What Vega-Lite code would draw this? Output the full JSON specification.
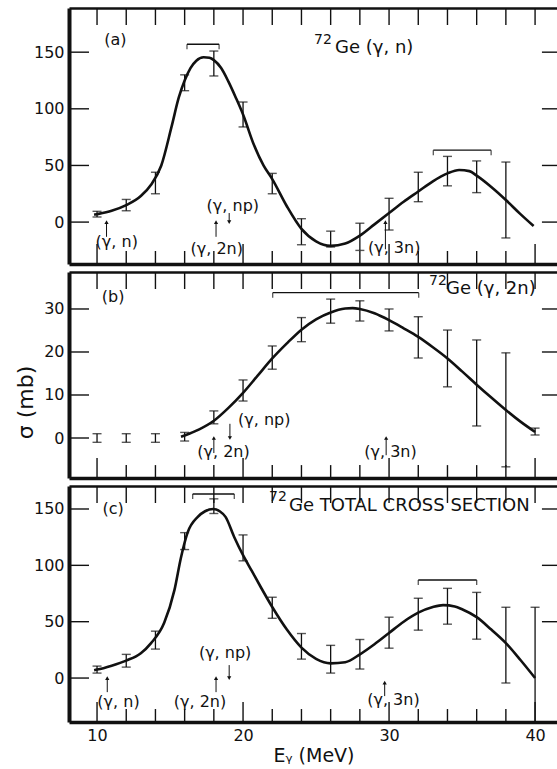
{
"$schema": "https://vega.github.io/schema/vega-lite/v6.json",
"background": "white",
"padding": {"left": 14, "top": 7, "right": 0, "bottom": 0},
"spacing": 8,
"bounds": "flush",
"config": {
  "view": {"stroke": null},
  "font": "DejaVu Sans",
  "axis": {"grid": false, "ticks": false, "labelFont": "DejaVu Sans", "titleFont": "DejaVu Sans", "labelColor": "#111", "domainColor": "#111", "titleColor": "#111", "labelFontSize": 16, "titleFontWeight": "normal"}
},
"datasets": {
  "xt": [{"E":10},{"E":12},{"E":14},{"E":16},{"E":18},{"E":20},{"E":22},{"E":24},{"E":26},{"E":28},{"E":30},{"E":32},{"E":34},{"E":36},{"E":38},{"E":40}],
  "yt": [
    {"p":"a","v":0},{"p":"a","v":50},{"p":"a","v":100},{"p":"a","v":150},
    {"p":"b","v":0},{"p":"b","v":10},{"p":"b","v":20},{"p":"b","v":30},
    {"p":"c","v":0},{"p":"c","v":50},{"p":"c","v":100},{"p":"c","v":150}
  ],
  "pts": [
    {"p":"a","E":10,"s":7,"lo":4.5,"hi":9.5},
    {"p":"a","E":12,"s":15,"lo":10,"hi":20},
    {"p":"a","E":14,"s":34.5,"lo":25,"hi":44},
    {"p":"a","E":16,"s":123,"lo":116,"hi":130},
    {"p":"a","E":18,"s":140,"lo":129,"hi":151},
    {"p":"a","E":20,"s":95,"lo":84,"hi":106},
    {"p":"a","E":22,"s":34,"lo":25,"hi":43},
    {"p":"a","E":24,"s":-8.5,"lo":-20,"hi":3},
    {"p":"a","E":26,"s":-15,"lo":-22,"hi":-8},
    {"p":"a","E":28,"s":-13,"lo":-25,"hi":-1},
    {"p":"a","E":30,"s":7,"lo":-7,"hi":21},
    {"p":"a","E":32,"s":31,"lo":18,"hi":44},
    {"p":"a","E":34,"s":45,"lo":32,"hi":58},
    {"p":"a","E":36,"s":40,"lo":26,"hi":54},
    {"p":"a","E":38,"s":19.5,"lo":-14,"hi":53},
    {"p":"b","E":10,"s":0,"lo":-1,"hi":1},
    {"p":"b","E":12,"s":0,"lo":-1,"hi":1},
    {"p":"b","E":14,"s":0,"lo":-1,"hi":1},
    {"p":"b","E":16,"s":0.3,"lo":-0.7,"hi":1.3},
    {"p":"b","E":18,"s":4.8,"lo":3.3,"hi":6.3},
    {"p":"b","E":20,"s":11,"lo":8.6,"hi":13.5},
    {"p":"b","E":22,"s":18.7,"lo":16,"hi":21.4},
    {"p":"b","E":24,"s":25.2,"lo":22.4,"hi":28},
    {"p":"b","E":26,"s":29.5,"lo":26.7,"hi":32.3},
    {"p":"b","E":28,"s":29.5,"lo":27.2,"hi":31.9},
    {"p":"b","E":30,"s":27.4,"lo":24.9,"hi":30},
    {"p":"b","E":32,"s":23.4,"lo":18.6,"hi":28.2},
    {"p":"b","E":34,"s":18.5,"lo":11.9,"hi":25.1},
    {"p":"b","E":36,"s":12.8,"lo":2.8,"hi":22.8},
    {"p":"b","E":38,"s":6.5,"lo":-6.7,"hi":19.8},
    {"p":"b","E":40,"s":1.5,"lo":0.7,"hi":2.3},
    {"p":"c","E":10,"s":7.5,"lo":4.4,"hi":10.6},
    {"p":"c","E":12,"s":15.5,"lo":9.7,"hi":21},
    {"p":"c","E":14,"s":33.6,"lo":25.7,"hi":41.6},
    {"p":"c","E":16,"s":121.5,"lo":114,"hi":129},
    {"p":"c","E":18,"s":152.5,"lo":146,"hi":159},
    {"p":"c","E":20,"s":115.5,"lo":104,"hi":127},
    {"p":"c","E":22,"s":62.4,"lo":53,"hi":71.7},
    {"p":"c","E":24,"s":28,"lo":16.8,"hi":39.5},
    {"p":"c","E":26,"s":16.7,"lo":4.4,"hi":29},
    {"p":"c","E":28,"s":21,"lo":8,"hi":34.2},
    {"p":"c","E":30,"s":40,"lo":26.5,"hi":54},
    {"p":"c","E":32,"s":56.6,"lo":42.5,"hi":70.8},
    {"p":"c","E":34,"s":63.7,"lo":47.8,"hi":79.6},
    {"p":"c","E":36,"s":55,"lo":34.5,"hi":76},
    {"p":"c","E":38,"s":29,"lo":-4.4,"hi":62.8},
    {"p":"c","E":40,"s":0,"lo":-63,"hi":62.8}
  ],
  "curve": [
    {"p":"a","E":9.8,"s":6.5},{"p":"a","E":10,"s":7},{"p":"a","E":11,"s":10},{"p":"a","E":12,"s":15},{"p":"a","E":13,"s":23},{"p":"a","E":13.7,"s":33},{"p":"a","E":14.4,"s":50},{"p":"a","E":15.1,"s":84},{"p":"a","E":15.6,"s":110},{"p":"a","E":16,"s":125},{"p":"a","E":16.4,"s":136},{"p":"a","E":16.8,"s":142.5},{"p":"a","E":17.3,"s":145.5},{"p":"a","E":17.7,"s":145},{"p":"a","E":18,"s":143},{"p":"a","E":18.5,"s":136},{"p":"a","E":19,"s":124},{"p":"a","E":19.5,"s":110},{"p":"a","E":20,"s":95},{"p":"a","E":20.75,"s":68},{"p":"a","E":21.4,"s":50},{"p":"a","E":22,"s":38},{"p":"a","E":23,"s":14},{"p":"a","E":24,"s":-6},{"p":"a","E":25,"s":-17},{"p":"a","E":26,"s":-21},{"p":"a","E":27,"s":-19},{"p":"a","E":28,"s":-12},{"p":"a","E":29,"s":-2},{"p":"a","E":30,"s":8},{"p":"a","E":31,"s":18},{"p":"a","E":32,"s":27},{"p":"a","E":33,"s":36},{"p":"a","E":34,"s":43},{"p":"a","E":34.8,"s":46},{"p":"a","E":35.5,"s":45},{"p":"a","E":36,"s":41},{"p":"a","E":37,"s":31},{"p":"a","E":38,"s":19.5},{"p":"a","E":39,"s":7},{"p":"a","E":39.9,"s":-3.5},
    {"p":"b","E":15.75,"s":0.3},{"p":"b","E":16,"s":0.6},{"p":"b","E":17,"s":2},{"p":"b","E":18,"s":4},{"p":"b","E":19,"s":7},{"p":"b","E":20,"s":10.5},{"p":"b","E":21,"s":14.5},{"p":"b","E":22,"s":18.5},{"p":"b","E":23,"s":22},{"p":"b","E":24,"s":25.2},{"p":"b","E":25,"s":27.6},{"p":"b","E":26,"s":29.2},{"p":"b","E":27,"s":30.1},{"p":"b","E":27.5,"s":30.2},{"p":"b","E":28,"s":30},{"p":"b","E":29,"s":29},{"p":"b","E":30,"s":27.4},{"p":"b","E":31,"s":25.5},{"p":"b","E":32,"s":23.5},{"p":"b","E":33,"s":21.1},{"p":"b","E":34,"s":18.5},{"p":"b","E":35,"s":15.5},{"p":"b","E":36,"s":12.4},{"p":"b","E":37,"s":9.4},{"p":"b","E":38,"s":6.5},{"p":"b","E":39,"s":3.8},{"p":"b","E":40,"s":1.4},
    {"p":"c","E":9.8,"s":7},{"p":"c","E":10,"s":7.5},{"p":"c","E":11,"s":11},{"p":"c","E":12,"s":15.5},{"p":"c","E":13,"s":22},{"p":"c","E":13.7,"s":31},{"p":"c","E":14.6,"s":49},{"p":"c","E":15.3,"s":78},{"p":"c","E":15.75,"s":107},{"p":"c","E":16.2,"s":129},{"p":"c","E":16.9,"s":143},{"p":"c","E":17.4,"s":148},{"p":"c","E":17.95,"s":150},{"p":"c","E":18.4,"s":148},{"p":"c","E":18.8,"s":143},{"p":"c","E":19.4,"s":125},{"p":"c","E":20,"s":109},{"p":"c","E":20.6,"s":95},{"p":"c","E":21.2,"s":81},{"p":"c","E":22,"s":63},{"p":"c","E":23,"s":43},{"p":"c","E":24,"s":27},{"p":"c","E":25,"s":17},{"p":"c","E":26,"s":13},{"p":"c","E":27,"s":14},{"p":"c","E":28,"s":21},{"p":"c","E":29,"s":30},{"p":"c","E":30,"s":40},{"p":"c","E":31,"s":50},{"p":"c","E":32,"s":58},{"p":"c","E":33,"s":63},{"p":"c","E":33.7,"s":64.7},{"p":"c","E":34.5,"s":63.5},{"p":"c","E":35,"s":61},{"p":"c","E":36,"s":54},{"p":"c","E":37,"s":43},{"p":"c","E":38,"s":31},{"p":"c","E":39,"s":16},{"p":"c","E":40,"s":0}
  ],
  "br": [
    {"p":"a","E1":16.16,"E2":18.36,"s":157},
    {"p":"a","E1":33.03,"E2":36.99,"s":63.5},
    {"p":"b","E1":22.03,"E2":32.03,"s":33.8},
    {"p":"c","E1":16.55,"E2":19.4,"s":163.3},
    {"p":"c","E1":32.0,"E2":36.0,"s":87}
  ],
  "arr": [
    {"p":"a","E":10.65,"t":-13,"h":0,"dir":"up"},
    {"p":"a","E":18.15,"t":-13,"h":0,"dir":"up"},
    {"p":"a","E":19.05,"t":8,"h":0,"dir":"down"},
    {"p":"a","E":29.75,"t":-24,"h":0,"dir":"up"},
    {"p":"b","E":18.0,"t":-3.5,"h":0,"dir":"up"},
    {"p":"b","E":19.1,"t":3.3,"h":0,"dir":"down"},
    {"p":"b","E":29.8,"t":-4,"h":0,"dir":"up"},
    {"p":"c","E":10.7,"t":-12.5,"h":0,"dir":"up"},
    {"p":"c","E":18.15,"t":-12.5,"h":0,"dir":"up"},
    {"p":"c","E":19.05,"t":11.5,"h":0,"dir":"down"},
    {"p":"c","E":29.7,"t":-16,"h":-4,"dir":"up"}
  ],
  "notes": [
    {"p":"a","k":"c","E":11.25,"s":160.5,"t":"(a)"},
    {"p":"a","k":"c","E":11.35,"s":-17.5,"t":"(γ, n)"},
    {"p":"a","k":"c","E":18.2,"s":-24,"t":"(γ, 2n)"},
    {"p":"a","k":"c","E":19.3,"s":14,"t":"(γ, np)"},
    {"p":"a","k":"c","E":30.35,"s":-23,"t":"(γ, 3n)"},
    {"p":"a","k":"sup","E":24.86,"s":160.6,"t":"72"},
    {"p":"a","k":"head","E":26.3,"s":154,"t":"Ge (γ, n)"},
    {"p":"b","k":"c","E":11.1,"s":32.8,"t":"(b)"},
    {"p":"b","k":"c","E":18.66,"s":-3.3,"t":"(γ, 2n)"},
    {"p":"b","k":"c","E":21.45,"s":4.2,"t":"(γ, np)"},
    {"p":"b","k":"c","E":30.1,"s":-3.3,"t":"(γ, 3n)"},
    {"p":"b","k":"sup","E":32.74,"s":36.5,"t":"72"},
    {"p":"b","k":"head","E":33.9,"s":34.65,"t":"Ge (γ, 2n)"},
    {"p":"c","k":"c","E":11.1,"s":150,"t":"(c)"},
    {"p":"c","k":"c","E":11.47,"s":-21,"t":"(γ, n)"},
    {"p":"c","k":"c","E":17.05,"s":-21,"t":"(γ, 2n)"},
    {"p":"c","k":"c","E":18.77,"s":22.5,"t":"(γ, np)"},
    {"p":"c","k":"c","E":30.3,"s":-19.5,"t":"(γ, 3n)"},
    {"p":"c","k":"sup","E":21.78,"s":160.7,"t":"72"},
    {"p":"c","k":"head","E":23.15,"s":153,"t":"Ge TOTAL CROSS SECTION"}
  ]
},
"vconcat": [
  {
    "width": 489, "height": 256,
    "resolve": {"axis": {"x": "independent", "y": "independent"}},
    "layer": [
      {"mark": {"type": "rule", "color": "#444", "strokeWidth": 1}, "encoding": {"y": {"datum": 0, "type": "quantitative", "axis": null, "scale": {"domain": [-37, 189], "nice": false, "zero": false}}}},
      {"data": {"name": "pts"}, "transform": [{"filter": "datum.p === 'a'"}], "mark": {"type": "rule", "color": "#111", "strokeWidth": 1.3, "clip": true},
       "encoding": {
         "x": {"field": "E", "type": "quantitative", "scale": {"domain": [8.08, 41.57], "nice": false, "zero": false}, "axis": {"orient": "bottom", "labels": false, "domainWidth": 3.5, "title": null}},
         "y": {"field": "lo", "type": "quantitative", "scale": {"domain": [-37, 189], "nice": false, "zero": false}, "axis": {"orient": "left", "values": [0, 50, 100, 150], "labelPadding": 5, "domainWidth": 4, "title": null}},
         "y2": {"field": "hi"}}},
      {"data": {"name": "pts"}, "transform": [{"filter": "datum.p === 'a'"}], "mark": {"type": "tick", "orient": "horizontal", "size": 9, "thickness": 1.4, "color": "#111", "clip": true},
       "encoding": {"x": {"field": "E", "type": "quantitative", "axis": {"orient": "top", "labels": false, "domainWidth": 2.5, "title": null}}, "y": {"field": "lo", "type": "quantitative", "axis": null}}},
      {"data": {"name": "pts"}, "transform": [{"filter": "datum.p === 'a'"}], "mark": {"type": "tick", "orient": "horizontal", "size": 9, "thickness": 1.4, "color": "#111", "clip": true},
       "encoding": {"x": {"field": "E", "type": "quantitative", "axis": null}, "y": {"field": "hi", "type": "quantitative", "axis": null}}},
      {"data": {"name": "xt"}, "transform": [{"filter": "datum.E % 10 === 0"}], "mark": {"type": "rule", "strokeWidth": 1.4, "color": "#111"},
       "encoding": {"x": {"field": "E", "type": "quantitative", "axis": null}, "y": {"datum": -37, "type": "quantitative", "axis": null}, "y2": {"datum": -19.3}}},
      {"data": {"name": "xt"}, "transform": [{"filter": "datum.E % 10 !== 0"}], "mark": {"type": "rule", "strokeWidth": 1.4, "color": "#111"},
       "encoding": {"x": {"field": "E", "type": "quantitative", "axis": null}, "y": {"datum": -37, "type": "quantitative", "axis": null}, "y2": {"datum": -25.5}}},
      {"data": {"name": "xt"}, "mark": {"type": "rule", "strokeWidth": 1.4, "color": "#111"},
       "encoding": {"x": {"field": "E", "type": "quantitative", "axis": null}, "y": {"datum": 189, "type": "quantitative", "axis": null}, "y2": {"datum": 174}}},
      {"data": {"name": "yt"}, "transform": [{"filter": "datum.p === 'a'"}], "mark": {"type": "rule", "strokeWidth": 1.4, "color": "#111"},
       "encoding": {"y": {"field": "v", "type": "quantitative", "axis": null}, "x": {"datum": 8.08, "type": "quantitative", "axis": null}, "x2": {"datum": 9.45}}},
      {"data": {"name": "yt"}, "transform": [{"filter": "datum.p === 'a'"}], "mark": {"type": "rule", "strokeWidth": 1.4, "color": "#111"},
       "encoding": {"y": {"field": "v", "type": "quantitative", "axis": null}, "x": {"datum": 40.47, "type": "quantitative", "axis": null}, "x2": {"datum": 41.57}}},
      {"data": {"name": "curve"}, "transform": [{"filter": "datum.p === 'a'"}], "mark": {"type": "line", "interpolate": "monotone", "color": "#111", "strokeWidth": 2.6, "clip": true},
       "encoding": {"x": {"field": "E", "type": "quantitative", "axis": null}, "y": {"field": "s", "type": "quantitative", "axis": null}}},
      {"data": {"name": "br"}, "transform": [{"filter": "datum.p === 'a'"}], "mark": {"type": "rule", "color": "#111", "strokeWidth": 1.3},
       "encoding": {"x": {"field": "E1", "type": "quantitative", "axis": null}, "x2": {"field": "E2"}, "y": {"field": "s", "type": "quantitative", "axis": null}}},
      {"data": {"name": "br"}, "transform": [{"filter": "datum.p === 'a'"}], "mark": {"type": "tick", "orient": "vertical", "size": 5, "thickness": 1.3, "color": "#111", "yOffset": 2.5},
       "encoding": {"x": {"field": "E1", "type": "quantitative", "axis": null}, "y": {"field": "s", "type": "quantitative", "axis": null}}},
      {"data": {"name": "br"}, "transform": [{"filter": "datum.p === 'a'"}], "mark": {"type": "tick", "orient": "vertical", "size": 5, "thickness": 1.3, "color": "#111", "yOffset": 2.5},
       "encoding": {"x": {"field": "E2", "type": "quantitative", "axis": null}, "y": {"field": "s", "type": "quantitative", "axis": null}}},
      {"data": {"name": "arr"}, "transform": [{"filter": "datum.p === 'a'"}], "mark": {"type": "rule", "color": "#111", "strokeWidth": 1},
       "encoding": {"x": {"field": "E", "type": "quantitative", "axis": null}, "y": {"field": "t", "type": "quantitative", "axis": null}, "y2": {"field": "h"}}},
      {"data": {"name": "arr"}, "transform": [{"filter": "datum.p === 'a'"}], "mark": {"type": "point", "filled": true, "size": 18, "color": "#111", "opacity": 1},
       "encoding": {"x": {"field": "E", "type": "quantitative", "axis": null}, "y": {"field": "h", "type": "quantitative", "axis": null}, "shape": {"field": "dir", "type": "nominal", "scale": {"domain": ["up", "down"], "range": ["triangle-up", "triangle-down"]}, "legend": null}}},
      {"data": {"name": "notes"}, "transform": [{"filter": "datum.p === 'a' && datum.k === 'c'"}], "mark": {"type": "text", "fontSize": 16, "align": "center", "baseline": "middle", "color": "#111", "font": "DejaVu Sans"},
       "encoding": {"x": {"field": "E", "type": "quantitative", "axis": null}, "y": {"field": "s", "type": "quantitative", "axis": null}, "text": {"field": "t"}}},
      {"data": {"name": "notes"}, "transform": [{"filter": "datum.p === 'a' && datum.k === 'sup'"}], "mark": {"type": "text", "fontSize": 14, "align": "left", "baseline": "middle", "color": "#111", "font": "DejaVu Sans"},
       "encoding": {"x": {"field": "E", "type": "quantitative", "axis": null}, "y": {"field": "s", "type": "quantitative", "axis": null}, "text": {"field": "t"}}},
      {"data": {"name": "notes"}, "transform": [{"filter": "datum.p === 'a' && datum.k === 'head'"}], "mark": {"type": "text", "fontSize": 18, "align": "left", "baseline": "middle", "color": "#111", "font": "DejaVu Sans"},
       "encoding": {"x": {"field": "E", "type": "quantitative", "axis": null}, "y": {"field": "s", "type": "quantitative", "axis": null}, "text": {"field": "t"}}}
    ]
  },
  {
    "width": 489, "height": 206,
    "resolve": {"axis": {"x": "independent", "y": "independent"}},
    "layer": [
      {"mark": {"type": "rule", "color": "#444", "strokeWidth": 1}, "encoding": {"y": {"datum": 0, "type": "quantitative", "axis": null, "scale": {"domain": [-9.3, 38.6], "nice": false, "zero": false}}}},
      {"data": {"name": "pts"}, "transform": [{"filter": "datum.p === 'b'"}], "mark": {"type": "rule", "color": "#111", "strokeWidth": 1.3, "clip": true},
       "encoding": {
         "x": {"field": "E", "type": "quantitative", "scale": {"domain": [8.08, 41.57], "nice": false, "zero": false}, "axis": {"orient": "bottom", "labels": false, "domainWidth": 3.5, "title": null}},
         "y": {"field": "lo", "type": "quantitative", "scale": {"domain": [-9.3, 38.6], "nice": false, "zero": false}, "axis": {"orient": "left", "values": [0, 10, 20, 30], "labelPadding": 5, "domainWidth": 4, "title": "σ (mb)", "titleFontSize": 22, "titleX": -44, "titleY": 130, "titleAngle": -90, "titleAlign": "center", "titleBaseline": "middle"}},
         "y2": {"field": "hi"}}},
      {"data": {"name": "pts"}, "transform": [{"filter": "datum.p === 'b'"}], "mark": {"type": "tick", "orient": "horizontal", "size": 9, "thickness": 1.4, "color": "#111", "clip": true},
       "encoding": {"x": {"field": "E", "type": "quantitative", "axis": {"orient": "top", "labels": false, "domainWidth": 2.5, "title": null}}, "y": {"field": "lo", "type": "quantitative", "axis": null}}},
      {"data": {"name": "pts"}, "transform": [{"filter": "datum.p === 'b'"}], "mark": {"type": "tick", "orient": "horizontal", "size": 9, "thickness": 1.4, "color": "#111", "clip": true},
       "encoding": {"x": {"field": "E", "type": "quantitative", "axis": null}, "y": {"field": "hi", "type": "quantitative", "axis": null}}},
      {"data": {"name": "xt"}, "transform": [{"filter": "datum.E % 10 === 0"}], "mark": {"type": "rule", "strokeWidth": 1.4, "color": "#111"},
       "encoding": {"x": {"field": "E", "type": "quantitative", "axis": null}, "y": {"datum": -9.3, "type": "quantitative", "axis": null}, "y2": {"datum": -4.65}}},
      {"data": {"name": "xt"}, "transform": [{"filter": "datum.E % 10 !== 0"}], "mark": {"type": "rule", "strokeWidth": 1.4, "color": "#111"},
       "encoding": {"x": {"field": "E", "type": "quantitative", "axis": null}, "y": {"datum": -9.3, "type": "quantitative", "axis": null}, "y2": {"datum": -6.3}}},
      {"data": {"name": "xt"}, "mark": {"type": "rule", "strokeWidth": 1.4, "color": "#111"},
       "encoding": {"x": {"field": "E", "type": "quantitative", "axis": null}, "y": {"datum": 38.6, "type": "quantitative", "axis": null}, "y2": {"datum": 34.65}}},
      {"data": {"name": "yt"}, "transform": [{"filter": "datum.p === 'b'"}], "mark": {"type": "rule", "strokeWidth": 1.4, "color": "#111"},
       "encoding": {"y": {"field": "v", "type": "quantitative", "axis": null}, "x": {"datum": 8.08, "type": "quantitative", "axis": null}, "x2": {"datum": 9.45}}},
      {"data": {"name": "yt"}, "transform": [{"filter": "datum.p === 'b' && datum.v > 0"}], "mark": {"type": "rule", "strokeWidth": 1.4, "color": "#111"},
       "encoding": {"y": {"field": "v", "type": "quantitative", "axis": null}, "x": {"datum": 40.47, "type": "quantitative", "axis": null}, "x2": {"datum": 41.57}}},
      {"data": {"name": "curve"}, "transform": [{"filter": "datum.p === 'b'"}], "mark": {"type": "line", "interpolate": "monotone", "color": "#111", "strokeWidth": 2.6, "clip": true},
       "encoding": {"x": {"field": "E", "type": "quantitative", "axis": null}, "y": {"field": "s", "type": "quantitative", "axis": null}}},
      {"data": {"name": "br"}, "transform": [{"filter": "datum.p === 'b'"}], "mark": {"type": "rule", "color": "#111", "strokeWidth": 1.3},
       "encoding": {"x": {"field": "E1", "type": "quantitative", "axis": null}, "x2": {"field": "E2"}, "y": {"field": "s", "type": "quantitative", "axis": null}}},
      {"data": {"name": "br"}, "transform": [{"filter": "datum.p === 'b'"}], "mark": {"type": "tick", "orient": "vertical", "size": 5, "thickness": 1.3, "color": "#111", "yOffset": 2.5},
       "encoding": {"x": {"field": "E1", "type": "quantitative", "axis": null}, "y": {"field": "s", "type": "quantitative", "axis": null}}},
      {"data": {"name": "br"}, "transform": [{"filter": "datum.p === 'b'"}], "mark": {"type": "tick", "orient": "vertical", "size": 5, "thickness": 1.3, "color": "#111", "yOffset": 2.5},
       "encoding": {"x": {"field": "E2", "type": "quantitative", "axis": null}, "y": {"field": "s", "type": "quantitative", "axis": null}}},
      {"data": {"name": "arr"}, "transform": [{"filter": "datum.p === 'b'"}], "mark": {"type": "rule", "color": "#111", "strokeWidth": 1},
       "encoding": {"x": {"field": "E", "type": "quantitative", "axis": null}, "y": {"field": "t", "type": "quantitative", "axis": null}, "y2": {"field": "h"}}},
      {"data": {"name": "arr"}, "transform": [{"filter": "datum.p === 'b'"}], "mark": {"type": "point", "filled": true, "size": 18, "color": "#111", "opacity": 1},
       "encoding": {"x": {"field": "E", "type": "quantitative", "axis": null}, "y": {"field": "h", "type": "quantitative", "axis": null}, "shape": {"field": "dir", "type": "nominal", "scale": {"domain": ["up", "down"], "range": ["triangle-up", "triangle-down"]}, "legend": null}}},
      {"data": {"name": "notes"}, "transform": [{"filter": "datum.p === 'b' && datum.k === 'c'"}], "mark": {"type": "text", "fontSize": 16, "align": "center", "baseline": "middle", "color": "#111", "font": "DejaVu Sans"},
       "encoding": {"x": {"field": "E", "type": "quantitative", "axis": null}, "y": {"field": "s", "type": "quantitative", "axis": null}, "text": {"field": "t"}}},
      {"data": {"name": "notes"}, "transform": [{"filter": "datum.p === 'b' && datum.k === 'sup'"}], "mark": {"type": "text", "fontSize": 14, "align": "left", "baseline": "middle", "color": "#111", "font": "DejaVu Sans"},
       "encoding": {"x": {"field": "E", "type": "quantitative", "axis": null}, "y": {"field": "s", "type": "quantitative", "axis": null}, "text": {"field": "t"}}},
      {"data": {"name": "notes"}, "transform": [{"filter": "datum.p === 'b' && datum.k === 'head'"}], "mark": {"type": "text", "fontSize": 18, "align": "left", "baseline": "middle", "color": "#111", "font": "DejaVu Sans"},
       "encoding": {"x": {"field": "E", "type": "quantitative", "axis": null}, "y": {"field": "s", "type": "quantitative", "axis": null}, "text": {"field": "t"}}}
    ]
  },
  {
    "width": 489, "height": 236,
    "resolve": {"axis": {"x": "independent", "y": "independent"}},
    "layer": [
      {"mark": {"type": "rule", "color": "#444", "strokeWidth": 1}, "encoding": {"y": {"datum": 0, "type": "quantitative", "axis": null, "scale": {"domain": [-39, 170.4], "nice": false, "zero": false}}}},
      {"data": {"name": "pts"}, "transform": [{"filter": "datum.p === 'c'"}], "mark": {"type": "rule", "color": "#111", "strokeWidth": 1.3, "clip": true},
       "encoding": {
         "x": {"field": "E", "type": "quantitative", "scale": {"domain": [8.08, 41.57], "nice": false, "zero": false}, "axis": {"orient": "bottom", "values": [10, 20, 30, 40], "labelPadding": 5, "domainWidth": 3.5, "title": "Eᵧ (MeV)", "titleFontSize": 19, "titleY": 33, "titleBaseline": "middle"}},
         "y": {"field": "lo", "type": "quantitative", "scale": {"domain": [-39, 170.4], "nice": false, "zero": false}, "axis": {"orient": "left", "values": [0, 50, 100, 150], "labelPadding": 5, "domainWidth": 4, "title": null}},
         "y2": {"field": "hi"}}},
      {"data": {"name": "pts"}, "transform": [{"filter": "datum.p === 'c'"}], "mark": {"type": "tick", "orient": "horizontal", "size": 9, "thickness": 1.4, "color": "#111", "clip": true},
       "encoding": {"x": {"field": "E", "type": "quantitative", "axis": {"orient": "top", "labels": false, "domainWidth": 2.5, "title": null}}, "y": {"field": "lo", "type": "quantitative", "axis": null}}},
      {"data": {"name": "pts"}, "transform": [{"filter": "datum.p === 'c'"}], "mark": {"type": "tick", "orient": "horizontal", "size": 9, "thickness": 1.4, "color": "#111", "clip": true},
       "encoding": {"x": {"field": "E", "type": "quantitative", "axis": null}, "y": {"field": "hi", "type": "quantitative", "axis": null}}},
      {"data": {"name": "xt"}, "transform": [{"filter": "datum.E % 10 === 0"}], "mark": {"type": "rule", "strokeWidth": 1.4, "color": "#111"},
       "encoding": {"x": {"field": "E", "type": "quantitative", "axis": null}, "y": {"datum": -39, "type": "quantitative", "axis": null}, "y2": {"datum": -21.3}}},
      {"data": {"name": "xt"}, "transform": [{"filter": "datum.E % 10 !== 0"}], "mark": {"type": "rule", "strokeWidth": 1.4, "color": "#111"},
       "encoding": {"x": {"field": "E", "type": "quantitative", "axis": null}, "y": {"datum": -39, "type": "quantitative", "axis": null}, "y2": {"datum": -27.5}}},
      {"data": {"name": "xt"}, "mark": {"type": "rule", "strokeWidth": 1.4, "color": "#111"},
       "encoding": {"x": {"field": "E", "type": "quantitative", "axis": null}, "y": {"datum": 170.4, "type": "quantitative", "axis": null}, "y2": {"datum": 155.3}}},
      {"data": {"name": "yt"}, "transform": [{"filter": "datum.p === 'c'"}], "mark": {"type": "rule", "strokeWidth": 1.4, "color": "#111"},
       "encoding": {"y": {"field": "v", "type": "quantitative", "axis": null}, "x": {"datum": 8.08, "type": "quantitative", "axis": null}, "x2": {"datum": 9.45}}},
      {"data": {"name": "yt"}, "transform": [{"filter": "datum.p === 'c' && datum.v > 0"}], "mark": {"type": "rule", "strokeWidth": 1.4, "color": "#111"},
       "encoding": {"y": {"field": "v", "type": "quantitative", "axis": null}, "x": {"datum": 40.47, "type": "quantitative", "axis": null}, "x2": {"datum": 41.57}}},
      {"data": {"name": "curve"}, "transform": [{"filter": "datum.p === 'c'"}], "mark": {"type": "line", "interpolate": "monotone", "color": "#111", "strokeWidth": 2.6, "clip": true},
       "encoding": {"x": {"field": "E", "type": "quantitative", "axis": null}, "y": {"field": "s", "type": "quantitative", "axis": null}}},
      {"data": {"name": "br"}, "transform": [{"filter": "datum.p === 'c'"}], "mark": {"type": "rule", "color": "#111", "strokeWidth": 1.3},
       "encoding": {"x": {"field": "E1", "type": "quantitative", "axis": null}, "x2": {"field": "E2"}, "y": {"field": "s", "type": "quantitative", "axis": null}}},
      {"data": {"name": "br"}, "transform": [{"filter": "datum.p === 'c'"}], "mark": {"type": "tick", "orient": "vertical", "size": 5, "thickness": 1.3, "color": "#111", "yOffset": 2.5},
       "encoding": {"x": {"field": "E1", "type": "quantitative", "axis": null}, "y": {"field": "s", "type": "quantitative", "axis": null}}},
      {"data": {"name": "br"}, "transform": [{"filter": "datum.p === 'c'"}], "mark": {"type": "tick", "orient": "vertical", "size": 5, "thickness": 1.3, "color": "#111", "yOffset": 2.5},
       "encoding": {"x": {"field": "E2", "type": "quantitative", "axis": null}, "y": {"field": "s", "type": "quantitative", "axis": null}}},
      {"data": {"name": "arr"}, "transform": [{"filter": "datum.p === 'c'"}], "mark": {"type": "rule", "color": "#111", "strokeWidth": 1},
       "encoding": {"x": {"field": "E", "type": "quantitative", "axis": null}, "y": {"field": "t", "type": "quantitative", "axis": null}, "y2": {"field": "h"}}},
      {"data": {"name": "arr"}, "transform": [{"filter": "datum.p === 'c'"}], "mark": {"type": "point", "filled": true, "size": 18, "color": "#111", "opacity": 1},
       "encoding": {"x": {"field": "E", "type": "quantitative", "axis": null}, "y": {"field": "h", "type": "quantitative", "axis": null}, "shape": {"field": "dir", "type": "nominal", "scale": {"domain": ["up", "down"], "range": ["triangle-up", "triangle-down"]}, "legend": null}}},
      {"data": {"name": "notes"}, "transform": [{"filter": "datum.p === 'c' && datum.k === 'c'"}], "mark": {"type": "text", "fontSize": 16, "align": "center", "baseline": "middle", "color": "#111", "font": "DejaVu Sans"},
       "encoding": {"x": {"field": "E", "type": "quantitative", "axis": null}, "y": {"field": "s", "type": "quantitative", "axis": null}, "text": {"field": "t"}}},
      {"data": {"name": "notes"}, "transform": [{"filter": "datum.p === 'c' && datum.k === 'sup'"}], "mark": {"type": "text", "fontSize": 14, "align": "left", "baseline": "middle", "color": "#111", "font": "DejaVu Sans"},
       "encoding": {"x": {"field": "E", "type": "quantitative", "axis": null}, "y": {"field": "s", "type": "quantitative", "axis": null}, "text": {"field": "t"}}},
      {"data": {"name": "notes"}, "transform": [{"filter": "datum.p === 'c' && datum.k === 'head'"}], "mark": {"type": "text", "fontSize": 18, "align": "left", "baseline": "middle", "color": "#111", "font": "DejaVu Sans"},
       "encoding": {"x": {"field": "E", "type": "quantitative", "axis": null}, "y": {"field": "s", "type": "quantitative", "axis": null}, "text": {"field": "t"}}}
    ]
  }
]
}
